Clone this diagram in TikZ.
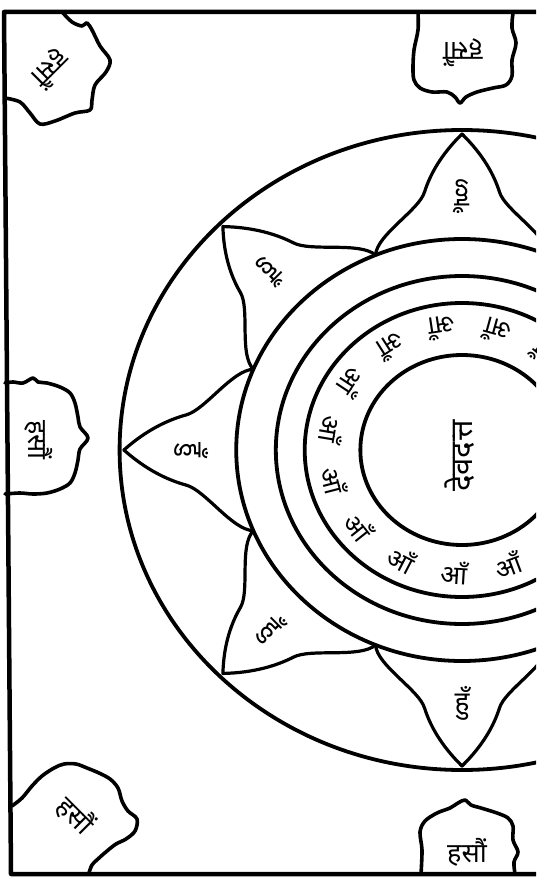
\documentclass[tikz,border=0pt]{standalone}
\usepackage{fontspec}
\newfontfamily\deva[Script=Devanagari]{Noto Sans}

\begin{document}
\begin{tikzpicture}[
x=1pt, y=-1pt,
line join=round, line cap=round,
frame/.style={line width=4.5pt},
ring/.style={line width=3.8pt},
petal/.style={line width=3.2pt},
cloudbox/.style={line width=3.6pt},
seedword/.style={font=\deva\fontsize{27}{27}\selectfont, inner sep=0pt},
ringword/.style={font=\deva\fontsize{26}{26}\selectfont, inner sep=0pt},
petalword/.style={font=\deva\fontsize{28}{28}\selectfont, inner sep=0pt},
nameword/.style={font=\deva\fontsize{31}{31}\selectfont, inner sep=0pt}
]
\useasboundingbox (0,0) rectangle (536,883);
\clip (0,0) rectangle (536,883);

% --- OUTER SQUARE ---
\draw[frame] (545,12) -- (4,12) -- (11,874) -- (545,874);

% --- CORNER AND SIDE SEATS ---
\draw[cloudbox] plot[smooth, tension=0.55] coordinates {(63,13) (72,22) (82,26) (87,23) (92,30) (100,46) (110,60) (106,72) (95,85) (92,100) (90,110) (75,113) (55,121) (40,124) (30,113) (20,102) (5,98)};
\node[seedword, rotate=-135] (seat_tl) at (51,69) {हसौं};

\draw[cloudbox] plot[smooth, tension=0.55] coordinates {(418,13) (418,30) (414,50) (413,68) (414,80) (420,88) (432,92) (447,92) (455,97) (460,103) (466,97) (477,92) (493,88) (506,85) (512,76) (512,60) (516,43) (512,28) (513,13)};
\node[seedword, rotate=180] (seat_top) at (463,53) {हसौं};

\draw[cloudbox] plot[smooth, tension=0.55] coordinates {(5,383) (13,382) (23,383) (33,378) (38,382) (47,383) (60,387) (70,393) (75,403) (78,417) (80,427) (88,438) (80,449) (78,460) (75,473) (70,483) (60,489) (47,493) (33,494) (20,493) (5,494)};
\node[seedword, rotate=-90] (seat_left) at (39,440) {हसौं};

\draw[cloudbox] plot[smooth, tension=0.55] coordinates {(12,806) (22,798) (32,786) (42,776) (54,768) (64,764) (76,764) (87,768) (99,773) (110,779) (118,788) (122,801) (128,811) (137,819) (135,831) (126,839) (116,844) (107,851) (99,858) (92,865) (89,873)};
\node[seedword, rotate=-45] (seat_bl) at (76,815) {हसौं};

\draw[cloudbox] plot[smooth, tension=0.55] coordinates {(421,874) (422,850) (420,832) (425,821) (437,813) (450,808) (458,803) (465,800) (471,805) (481,808) (497,813) (508,818) (513,826) (513,840) (518,852) (514,862) (515,874)};
\node[seedword] (seat_bottom) at (467,852) {हसौं};

% --- LOTUS AND RINGS ---
\begin{scope}[shift={(462,450)}, x=1.07pt, y=1pt]
\foreach \r in {320,211,174,147,95}
  \draw[ring] (0,0) circle[radius=\r];

\foreach \a in {0,45,...,315} {
  \draw[petal] ({\a+22.5}:211) .. controls ({\a+20.41}:229.4) and ({\a+9.46}:243.3) .. ({\a+7.73}:260.4)
    .. controls ({\a+6.23}:276.6) and ({\a+3.88}:295.7) .. (\a:316)
    .. controls ({\a-3.88}:295.7) and ({\a-6.23}:276.6) .. ({\a-7.73}:260.4)
    .. controls ({\a-9.46}:243.3) and ({\a-20.41}:229.4) .. ({\a-22.5}:211);
  \node[petalword, rotate={\a+90}] (petal\a) at (\a:253) {हुँ};
}

\foreach \i in {0,...,14}
  \node[ringword, rotate={2.5+24*\i+90}] (letter\i) at ({2.5+24*\i}:123) {आँ};

\node[nameword, rotate=90] (centre) at (-2,-6) {देवदत्त};
\end{scope}

\end{tikzpicture}
\end{document}
